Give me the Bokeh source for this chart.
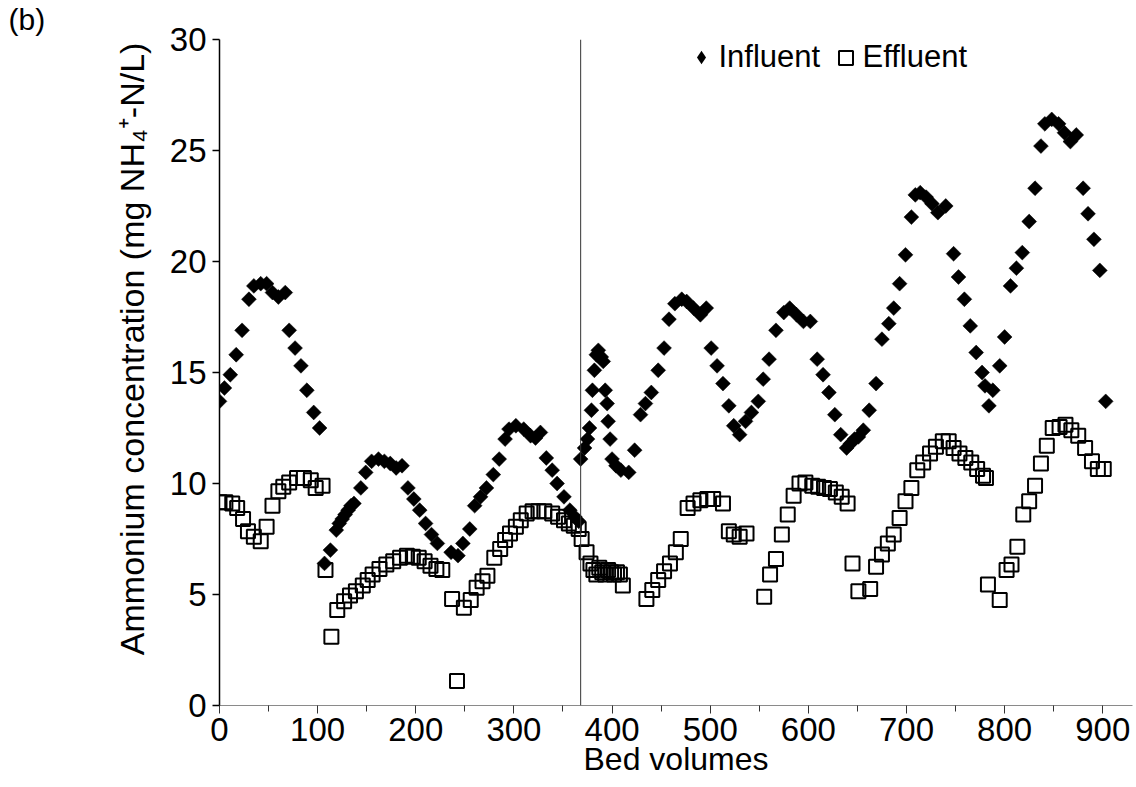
import numpy as np
from bokeh.plotting import figure
from bokeh.models import Span, Legend, LegendItem, FixedTicker
from bokeh.embed import file_html
from bokeh.resources import INLINE

# ---------------- data ----------------
influent_bv = [0, 5, 11, 17, 23, 30, 35, 42, 48, 54, 60, 67, 71, 77, 83, 89, 96, 102,
               107, 113, 119, 122, 125, 128, 131, 134, 137, 144, 149, 155, 162, 168, 174, 180, 186,
               192, 198, 204, 210, 216, 222, 236, 243, 248, 255, 260, 266, 272, 279, 285, 291, 295,
               302, 310, 317, 322, 327, 333, 339, 344, 351, 357, 362, 366,
               368, 372, 375, 377, 379, 380, 382, 384, 386, 389, 391, 393, 395, 396, 398, 400, 404,
               409, 417, 423, 429, 434, 440, 447, 453, 458, 464, 471, 476, 483, 490, 496, 501, 507,
               513, 519, 524, 530, 536, 542, 549, 554, 560, 567, 575, 581, 588, 595, 602, 609, 615,
               621, 627, 633, 639, 643, 647, 651, 656, 662, 669, 675, 682, 687, 693, 699, 705, 709,
               714, 720, 726, 732, 740, 748, 753, 759, 765, 771, 777, 780, 784, 788, 795, 800, 806,
               812, 818, 825, 831, 837, 841, 848, 855, 861, 867, 873, 880, 885, 891, 897, 903]
influent_conc = [13.7, 14.3, 14.9, 15.8, 16.9, 18.3, 18.9, 19.0, 19.0, 18.6, 18.4, 18.6, 16.9, 16.1, 15.3, 14.2, 13.2, 12.5,
                 6.4, 7.0, 7.9, 8.2, 8.4, 8.6, 8.8, 9.0, 9.1, 9.8, 10.5, 11.0, 11.1, 11.0, 10.9, 10.7, 10.8,
                 9.8, 9.3, 8.8, 8.2, 7.7, 7.3, 6.9, 6.75, 7.3, 7.95, 9.0, 9.4, 9.8, 10.4, 11.1, 12.0, 12.45,
                 12.6, 12.45, 12.15, 12.05, 12.3, 11.15, 10.6, 10.0, 9.4, 8.8, 8.5, 8.3,
                 11.1, 11.6, 12.0, 12.5, 13.3, 14.2, 15.1, 15.8, 16.0, 15.7, 15.5, 14.2, 13.6, 12.8, 12.0, 11.1, 10.8,
                 10.6, 10.5, 11.5, 13.1, 13.6, 14.1, 15.1, 16.1, 17.4, 18.1, 18.3, 18.2, 17.9, 17.6, 17.9, 16.1, 15.3,
                 14.5, 13.5, 12.6, 12.2, 12.8, 13.2, 13.7, 14.7, 15.6, 16.9, 17.7, 17.9, 17.6, 17.3, 17.3, 15.6, 14.9,
                 14.1, 13.1, 12.2, 11.6, 11.8, 12.0, 12.1, 12.4, 13.3, 14.5, 16.5, 17.2, 17.9, 19.0, 20.3, 22.0, 23.0,
                 23.1, 22.9, 22.6, 22.2, 22.5, 20.35, 19.3, 18.3, 17.1, 15.9, 15.0, 14.4, 13.5, 14.2, 15.3, 16.6, 18.9,
                 19.7, 20.4, 21.8, 23.3, 25.2, 26.2, 26.4, 26.2, 25.8, 25.4, 25.7, 23.3, 22.15, 21.0, 19.6, 13.7]

effluent_bv = [0, 6, 13, 18, 24, 29, 35, 42, 48, 54, 60, 65, 71, 79, 86, 93, 98, 105,
               108, 114, 120, 127, 133, 139, 146, 151, 156, 163, 170, 177, 184, 191, 197, 203, 209,
               215, 221, 227, 237, 242, 249, 256, 262, 268, 273, 280, 286, 291, 296, 302, 307, 313,
               319, 325, 331, 339, 345, 351, 356, 361, 366, 369, 374, 378, 381, 384, 387, 390, 393,
               396, 399, 402, 405, 408, 411, 435, 441, 447, 453, 459, 465, 470, 477, 483, 490, 497,
               503, 513, 519, 524, 530, 537, 555, 561, 567, 573, 579, 585, 591, 597, 604, 610, 616,
               622, 628, 634, 640, 645, 651, 663, 669, 675, 681, 687, 693, 699, 705, 711, 717, 724,
               730, 737, 743, 748, 754, 760, 766, 772, 778, 781, 783, 795, 802, 807, 813, 819, 825,
               831, 837, 843, 849, 856, 862, 868, 875, 882, 889, 895, 901]
effluent_conc = [9.15, 9.15, 9.1, 8.9, 8.4, 7.85, 7.6, 7.4, 8.05, 9.0, 9.65, 9.85, 10.05, 10.25, 10.25, 10.15, 9.8, 9.9,
                 6.1, 3.1, 4.3, 4.7, 4.95, 5.15, 5.4, 5.65, 5.9, 6.15, 6.35, 6.5, 6.65, 6.75, 6.7, 6.65, 6.5,
                 6.3, 6.15, 6.1, 4.8, 1.1, 4.4, 4.75, 5.3, 5.6, 5.85, 6.65, 7.05, 7.45, 7.75, 8.05, 8.35, 8.65,
                 8.75, 8.75, 8.75, 8.65, 8.5, 8.35, 8.2, 8.1, 7.95, 7.5, 6.9, 6.4, 6.1, 5.9, 6.2, 6.0, 5.9,
                 6.1, 6.0, 5.9, 6.0, 5.9, 5.4, 4.8, 5.2, 5.65, 6.05, 6.4, 6.9, 7.5, 8.9, 9.1, 9.25, 9.3,
                 9.3, 9.1, 7.85, 7.7, 7.6, 7.75, 4.9, 5.9, 6.6, 7.7, 8.6, 9.45, 10.0, 10.05, 9.9, 9.85, 9.8,
                 9.75, 9.6, 9.4, 9.1, 6.4, 5.15, 5.25, 6.25, 6.8, 7.3, 7.7, 8.45, 9.2, 9.8, 10.6, 10.95, 11.35,
                 11.65, 11.9, 11.9, 11.6, 11.35, 11.15, 10.95, 10.65, 10.35, 10.25, 5.45, 4.75, 6.1, 6.35, 7.15, 8.6, 9.2,
                 9.9, 10.9, 11.7, 12.5, 12.55, 12.65, 12.4, 12.15, 11.6, 11.0, 10.65, 10.65]

x_ticks = [0, 100, 200, 300, 400, 500, 600, 700, 800, 900]
x_minor_ticks = [50, 150, 250, 350, 450, 550, 650, 750, 850]
y_ticks = [0, 5, 10, 15, 20, 25, 30]
phase_change_bv = 368

FONT = "Liberation Sans"

p = figure(width=1136, height=787, x_range=(0, 930.3), y_range=(0, 30),
           output_backend="svg", toolbar_location=None, title="(b)",
           min_border_left=219, min_border_right=4, min_border_top=39, min_border_bottom=82)
p.grid.visible = False
p.outline_line_color = None
p.background_fill_color = "white"
p.border_fill_color = "white"

# panel label
p.title.align = "left"
p.title.vertical_align = "top"
p.title.offset = -211
p.title.standoff = 4
p.title.text_font = FONT
p.title.text_font_size = "30px"
p.title.text_font_style = "normal"
p.title.text_color = "black"

# x axis
xa = p.xaxis[0]
xa.ticker = FixedTicker(ticks=x_ticks, minor_ticks=x_minor_ticks)
xa.axis_line_color = "#8a8a8a"
xa.axis_line_width = 1
xa.major_tick_line_color = "#333333"
xa.minor_tick_line_color = "#333333"
xa.major_tick_out = 8
xa.major_tick_in = 0
xa.minor_tick_out = 6
xa.minor_tick_in = 0
xa.major_label_text_font = FONT
xa.major_label_text_font_size = "33px"
xa.major_label_text_color = "black"
xa.major_label_standoff = 4
xa.axis_label = "Bed volumes"
xa.axis_label_text_font = FONT
xa.axis_label_text_font_size = "32px"
xa.axis_label_text_font_style = "normal"
xa.axis_label_text_color = "black"
xa.axis_label_standoff = -3

# y axis
ya = p.yaxis[0]
ya.ticker = FixedTicker(ticks=y_ticks, minor_ticks=[])
ya.axis_line_color = "black"
ya.axis_line_width = 1.5
ya.major_tick_line_color = "black"
ya.major_tick_line_width = 1.5
ya.major_tick_out = 7
ya.major_tick_in = 0
ya.minor_tick_out = 0
ya.minor_tick_in = 0
ya.major_label_text_font = FONT
ya.major_label_text_font_size = "33px"
ya.major_label_text_color = "black"
ya.major_label_standoff = 6
ya.axis_label = "\u00a0\u00a0\u00a0\u00a0\u00a0Ammonium concentration (mg NH\u2084\u207a-N/L)"
ya.axis_label_text_font = FONT
ya.axis_label_text_font_size = "34px"
ya.axis_label_text_font_style = "normal"
ya.axis_label_text_color = "black"
ya.axis_label_standoff = 16

# vertical line marking the change
p.add_layout(Span(location=phase_change_bv, dimension="height",
                  line_color="#333333", line_width=1))

r_eff = p.scatter(effluent_bv, effluent_conc, marker="square", size=14,
                  fill_color=None, line_color="black", line_width=2)
# diamond glyph used for the legend key (sits fully under the rotated squares)
r_inf_key = p.scatter(influent_bv, influent_conc, marker="diamond", size=12,
                      fill_color="black", line_color=None)
r_inf = p.scatter(influent_bv, influent_conc, marker="square", angle=np.pi / 4, size=10.5,
                  fill_color="black", line_color="black", line_width=0.5)

leg_common = dict(orientation="horizontal", padding=0, margin=0, spacing=0,
                  border_line_color=None, background_fill_alpha=0,
                  label_text_font=FONT, label_text_font_size="31px",
                  label_text_color="black", label_height=35)
leg1 = Legend(items=[LegendItem(label="Influent", renderers=[r_inf_key])],
              location=(464.5, 630), glyph_width=34, glyph_height=34, label_standoff=1, **leg_common)
leg2 = Legend(items=[LegendItem(label="Effluent", renderers=[r_eff])],
              location=(608.5, 630), glyph_width=35, glyph_height=35, label_standoff=0, **leg_common)
p.add_layout(leg1, "center")
p.add_layout(leg2, "center")

open("out.html", "w").write(file_html(p, INLINE))
